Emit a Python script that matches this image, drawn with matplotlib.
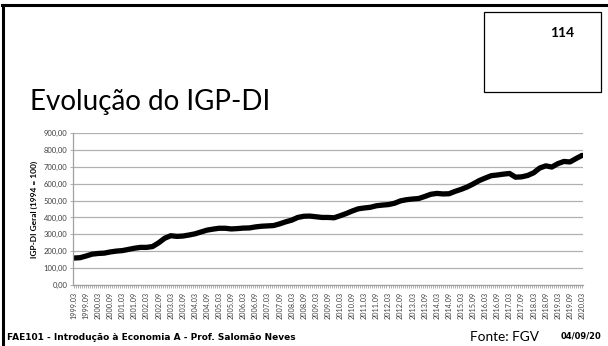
import matplotlib.pyplot as plt
from matplotlib.lines import Line2D
from matplotlib.patches import Rectangle

# IGP-DI trimestral, de 1999.03 a 2020.03
igp_di = [160, 162, 172, 183, 187, 189, 196, 201, 204, 211,
          218, 223, 223, 228, 250, 277, 292, 288, 290, 296,
          303, 314, 325, 331, 336, 336, 332, 334, 337, 338,
          344, 348, 350, 352, 362, 374, 384, 400, 407, 408,
          404, 400, 400, 398, 410, 423, 438, 451, 456, 460,
          469, 473, 476, 484, 498, 505, 509, 512, 524, 537,
          542, 539, 540, 554, 566, 580, 598, 618, 633, 647,
          651, 656, 660, 638, 640, 648, 664, 692, 705, 698,
          718, 731, 728, 748, 767]
meses = [3 * i for i in range(len(igp_di))]

# rótulos do eixo x a cada seis meses
anos = list(range(1999, 2021))
rotulos = []
for a in anos:
    rotulos.append(f'{a}.03')
    if a < 2020:
        rotulos.append(f'{a}.09')
pos_rotulos = [6 * i for i in range(len(rotulos))]

y_ticks = [0, 100, 200, 300, 400, 500, 600, 700, 800, 900]

fonte = 'Lato'
fig = plt.figure(figsize=(6.08, 3.46), dpi=100)
fig.patch.set_facecolor('white')

ax = fig.add_axes([0.120, 0.176, 0.839, 0.440])
ax.plot(meses, igp_di, color='black', linewidth=3.8, solid_capstyle='round')
ax.set_xlim(-0.5, 252.5)
ax.set_ylim(0, 900)
ax.set_yticks(y_ticks)
ax.set_yticklabels([f'{v:.2f}'.replace('.', ',') for v in y_ticks],
                   fontsize=5.5, color='#404040', family=fonte)
ax.set_xticks(pos_rotulos)
ax.set_xticklabels(rotulos, rotation=90, fontsize=5.2, color='#404040', family=fonte)
ax.set_xticks(range(0, 253), minor=True)
ax.tick_params(axis='x', which='both', length=2, color='#a0a0a0', width=0.6, pad=3)
ax.tick_params(axis='y', length=2, color='#a0a0a0', width=0.6, pad=2)
ax.grid(axis='y', color='#b0b0b0', linewidth=0.9)
ax.set_axisbelow(True)
for lado in ['top', 'right']:
    ax.spines[lado].set_visible(False)
for lado in ['left', 'bottom']:
    ax.spines[lado].set_color('#a0a0a0')
    ax.spines[lado].set_linewidth(0.9)
ax.set_ylabel('IGP-DI Geral (1994 = 100)', fontsize=6, fontweight='bold', family=fonte)

# moldura do slide
fig.add_artist(Line2D([0.004, 1.0], [0.985, 0.985], color='black', linewidth=2.2))
fig.add_artist(Line2D([0.005, 0.005], [0.0, 0.985], color='black', linewidth=2.2))
fig.add_artist(Rectangle((484 / 608, 1 - 92 / 346), 117 / 608, 80 / 346,
                         fill=False, edgecolor='black', linewidth=0.9,
                         transform=fig.transFigure))
fig.text(574 / 608, 1 - 33 / 346, '114', ha='right', va='center',
         fontsize=10, fontweight='bold', family=fonte)

fig.text(30 / 608, 1 - 110 / 346, 'Evolução do IGP-DI', ha='left', va='baseline',
         fontsize=20, family=fonte)

fig.text(7 / 608, 1 - 337 / 346,
         'FAE101 - Introdução à Economia A - Prof. Salomão Neves',
         ha='left', va='center', fontsize=6.5, fontweight='bold', family='DejaVu Sans')
fig.text(470 / 608, 1 - 337 / 346, 'Fonte: FGV', ha='left', va='center',
         fontsize=9.8, family=fonte)
fig.text(601 / 608, 1 - 336 / 346, '04/09/20', ha='right', va='center',
         fontsize=6, fontweight='bold', family='DejaVu Sans')

fig.savefig('out.png', dpi=100)
